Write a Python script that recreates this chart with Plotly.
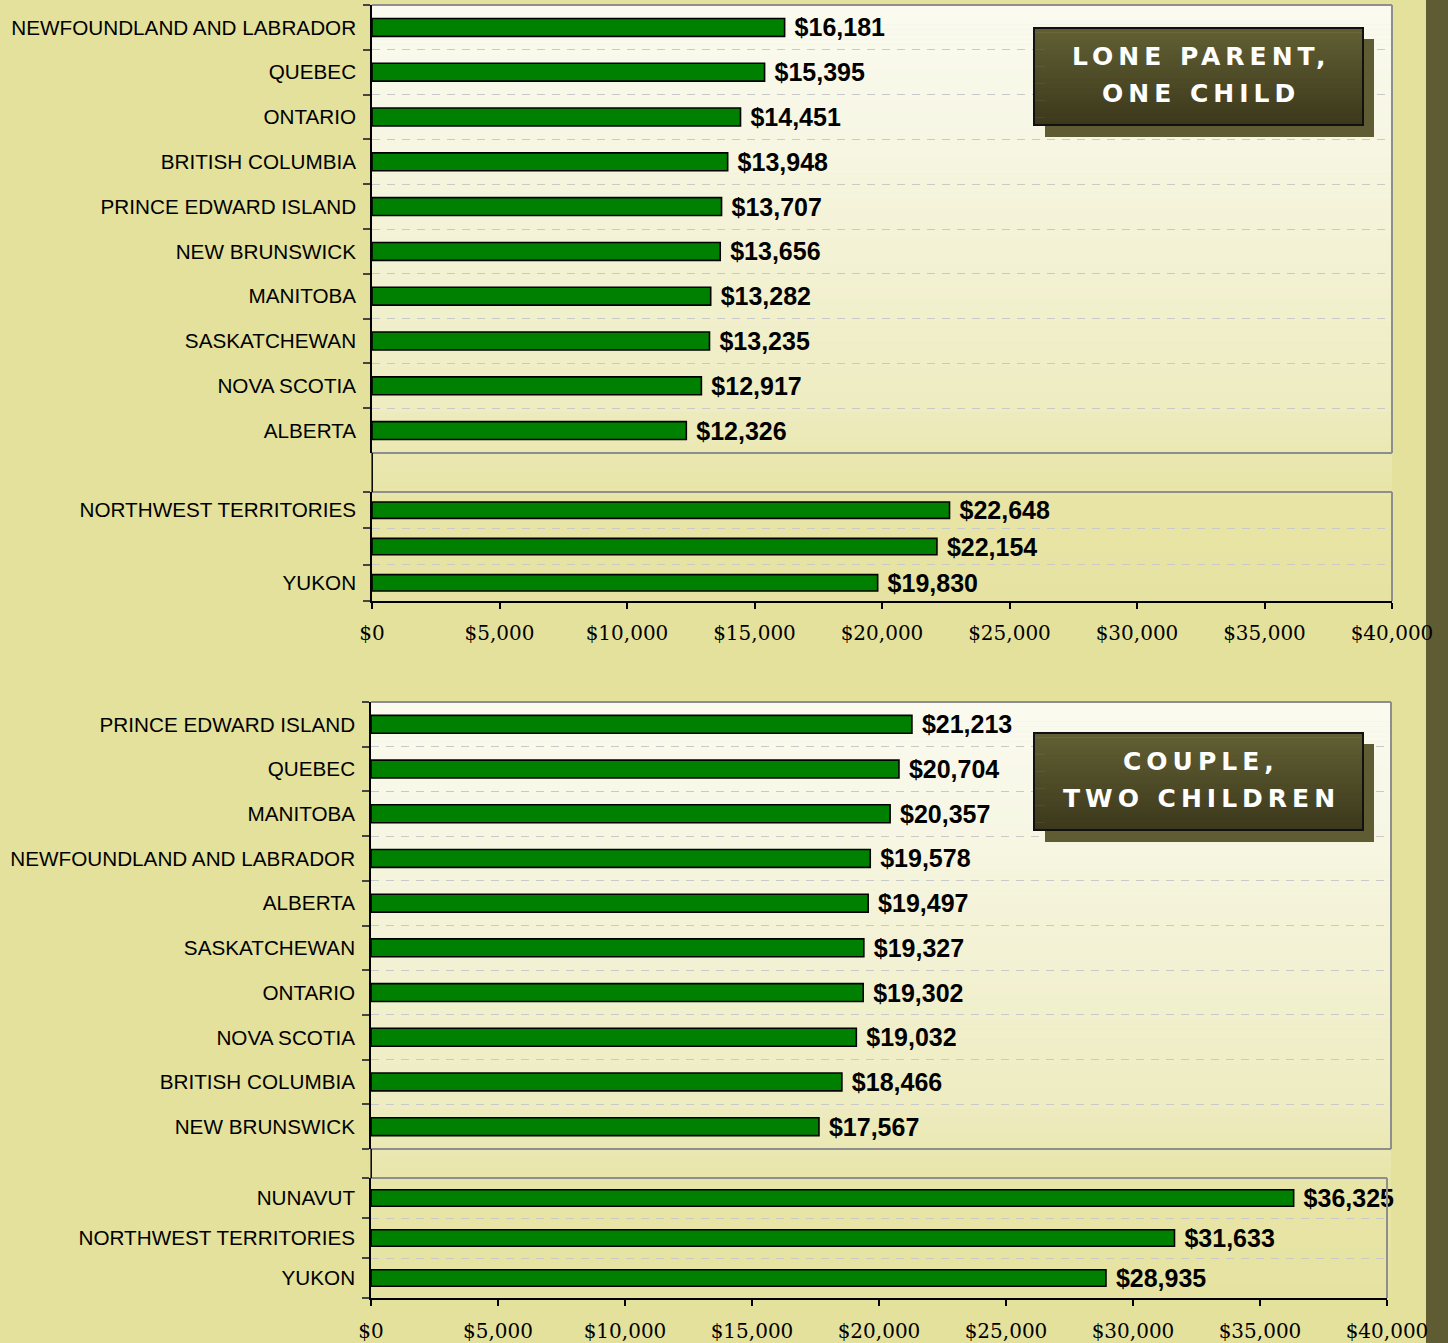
import numpy as np
import plotly.graph_objects as go

W, H = 1448, 1343

# ---------------- data ----------------
lone_provinces = ["NEWFOUNDLAND AND LABRADOR", "QUEBEC", "ONTARIO", "BRITISH COLUMBIA",
                  "PRINCE EDWARD ISLAND", "NEW BRUNSWICK", "MANITOBA", "SASKATCHEWAN",
                  "NOVA SCOTIA", "ALBERTA"]
lone_province_values = [16181, 15395, 14451, 13948, 13707, 13656, 13282, 13235, 12917, 12326]

lone_territories = ["NORTHWEST TERRITORIES", "NUNAVUT", "YUKON"]
lone_territory_labels = ["NORTHWEST TERRITORIES", "", "YUKON"]
lone_territory_values = [22648, 22154, 19830]

couple_provinces = ["PRINCE EDWARD ISLAND", "QUEBEC", "MANITOBA", "NEWFOUNDLAND AND LABRADOR",
                    "ALBERTA", "SASKATCHEWAN", "ONTARIO", "NOVA SCOTIA", "BRITISH COLUMBIA",
                    "NEW BRUNSWICK"]
couple_province_values = [21213, 20704, 20357, 19578, 19497, 19327, 19302, 19032, 18466, 17567]

couple_territories = ["NUNAVUT", "NORTHWEST TERRITORIES", "YUKON"]
couple_territory_labels = ["NUNAVUT", "NORTHWEST TERRITORIES", "YUKON"]
couple_territory_values = [36325, 31633, 28935]

x_tick_values = [0, 5000, 10000, 15000, 20000, 25000, 30000, 35000, 40000]
x_tick_labels = ["$0", "$5,000", "$10,000", "$15,000", "$20,000", "$25,000",
                 "$30,000", "$35,000", "$40,000"]

panel_titles = [["LONE PARENT,", "ONE CHILD"], ["COUPLE,", "TWO CHILDREN"]]

# ---------------- styling ----------------
PAGE = "#E3E19B"
STRIP = "#5F5C33"
BAR = "#008000"
LABEL_FONT = "Liberation Sans, Arial, sans-serif"
TICK_FONT = "DejaVu Serif, serif"


def px_x(p):
    return p / W


def px_y(p):
    return 1 - p / H


# pixel boxes of the four plotting areas (x0, x1, ytop, ybottom)
boxes = [
    (372, 1392, 5, 453),
    (372, 1392, 492, 601),
    (371, 1391, 702, 1149),
    (371, 1387, 1178, 1298),
]
x_label_standoff = [None, 7, None, 8]

fig = go.Figure()

series = [
    (lone_provinces, lone_provinces, lone_province_values, 0.40),
    (lone_territories, lone_territory_labels, lone_territory_values, 0.45),
    (couple_provinces, couple_provinces, couple_province_values, 0.40),
    (couple_territories, couple_territory_labels, couple_territory_values, 0.41),
]

layout = dict(
    width=W, height=H, autosize=False, margin=dict(l=0, r=0, t=0, b=0, autoexpand=False),
    paper_bgcolor=PAGE, plot_bgcolor="rgba(0,0,0,0)",
    showlegend=False,
)

for i, (cats, labels, vals, bw) in enumerate(series):
    n = i + 1
    xname = "x" if n == 1 else f"x{n}"
    yname = "y" if n == 1 else f"y{n}"
    fig.add_trace(go.Bar(
        x=vals, y=cats, orientation="h", xaxis=xname, yaxis=yname,
        width=bw,
        marker=dict(color=BAR, line=dict(color="black", width=1.6)),
        texttemplate=" $%{x:,.0f}", textposition="outside", constraintext="none",
        textfont=dict(family=LABEL_FONT, size=25, color="black", weight="bold"),
        cliponaxis=False, hoverinfo="skip",
    ))
    x0, x1, yt, yb = boxes[i]
    show_x = (i % 2 == 1)
    xa = dict(
        domain=[px_x(x0), px_x(x1)], range=[0, 40000], anchor=yname,
        showgrid=False, zeroline=False, fixedrange=True, automargin=False,
        visible=show_x,
    )
    if show_x:
        xa.update(
            tickmode="array", tickvals=x_tick_values, ticktext=x_tick_labels,
            ticks="outside", ticklen=6, tickcolor="black", tickwidth=1.5,
            showline=True, linecolor="black", linewidth=1.5,
            tickfont=dict(family=TICK_FONT, size=20, color="black"),
            ticklabelstandoff=x_label_standoff[i],
        )
    ya = dict(
        domain=[px_y(yb), px_y(yt)], anchor=xname, type="category",
        categoryorder="array", categoryarray=cats, autorange="reversed",
        tickmode="array", tickvals=cats, ticktext=labels, tickson="boundaries",
        ticks="outside", ticklen=7, tickcolor="#444", tickwidth=1.5,
        showline=True, linecolor="black", linewidth=1.5,
        showgrid=True, gridcolor="#C9C9C9", griddash="8px,7px", gridwidth=1,
        tickfont=dict(family=LABEL_FONT, size=20.7, color="black"),
        ticklabelstandoff=10, zeroline=False, fixedrange=True, automargin=False,
    )
    layout["xaxis" if n == 1 else f"xaxis{n}"] = xa
    layout["yaxis" if n == 1 else f"yaxis{n}"] = ya

shapes = []

# dark strip at the right edge (below the tick labels)
shapes.append(dict(type="rect", xref="paper", yref="paper", layer="below",
                   x0=px_x(1426), x1=1.01, y0=-0.01, y1=1.01,
                   fillcolor=STRIP, line=dict(width=0)))

# gradient background behind each pair of plotting areas
top_c = np.array([250, 250, 240])
bot_c = np.array([230, 227, 162])
ctl_t = [0, 0.2, 0.67, 0.78, 0.83, 1.0]
ctl_f = [0, 0.14, 0.60, 0.85, 0.95, 1.0]
for (x0, x1, ytop, ybot) in [(372, 1392, 5, 601), (371, 1391, 702, 1298)]:
    nstrip = 120
    edges = np.linspace(ytop, ybot, nstrip + 1)
    for k in range(nstrip):
        t = (k + 0.5) / nstrip
        f = np.interp(t, ctl_t, ctl_f)
        c = top_c + (bot_c - top_c) * f
        shapes.append(dict(type="rect", xref="paper", yref="paper", layer="below",
                           x0=px_x(x0), x1=px_x(x1), y0=px_y(edges[k + 1]), y1=px_y(edges[k] - 0.6),
                           fillcolor=f"rgb({c[0]:.0f},{c[1]:.0f},{c[2]:.0f})", line=dict(width=0)))

GRAY = "#8E8E8E"


def hline(xa, xb, y, color=GRAY, w=2):
    return dict(type="line", xref="paper", yref="paper", layer="above",
                x0=px_x(xa), x1=px_x(xb), y0=px_y(y), y1=px_y(y), line=dict(color=color, width=w))


def vline(x, ya, yb, color=GRAY, w=2):
    return dict(type="line", xref="paper", yref="paper", layer="above",
                x0=px_x(x), x1=px_x(x), y0=px_y(ya), y1=px_y(yb), line=dict(color=color, width=w))


for i, (x0, x1, yt, yb) in enumerate(boxes):
    shapes.append(hline(x0, x1, yt))
    shapes.append(vline(x1, yt, yb))
    if i % 2 == 0:
        shapes.append(hline(x0, x1, yb))

# black y-axis line across the gaps
shapes.append(vline(372.2, 453, 492, color="black", w=1.5))
shapes.append(vline(371.2, 1149, 1178, color="black", w=1.5))

# title boxes
annotations = []
box_c_top = np.array([98, 96, 52])
box_c_bot = np.array([60, 56, 28])
for (bx0, by0), title in zip([(1034, 28), (1034, 733)], panel_titles):
    bx1, by1 = bx0 + 329, by0 + 97
    shapes.append(dict(type="rect", xref="paper", yref="paper", layer="above",
                       x0=px_x(bx0 + 11), x1=px_x(bx1 + 11), y0=px_y(by1 + 12), y1=px_y(by0 + 11),
                       fillcolor=STRIP, line=dict(width=0)))
    ns = 40
    edges = np.linspace(by0, by1, ns + 1)
    for k in range(ns):
        t = (k + 0.5) / ns
        c = box_c_top + (box_c_bot - box_c_top) * t
        shapes.append(dict(type="rect", xref="paper", yref="paper", layer="above",
                           x0=px_x(bx0), x1=px_x(bx1), y0=px_y(edges[k + 1]), y1=px_y(edges[k] - 0.6),
                           fillcolor=f"rgb({c[0]:.0f},{c[1]:.0f},{c[2]:.0f})", line=dict(width=0)))
    shapes.append(dict(type="rect", xref="paper", yref="paper", layer="above",
                       x0=px_x(bx0), x1=px_x(bx1), y0=px_y(by1), y1=px_y(by0),
                       fillcolor="rgba(0,0,0,0)", line=dict(color="#111", width=2)))
    cx = (bx0 + bx1) / 2 + 2.5
    for j, line_text in enumerate(title):
        cy = by0 + 28.5 + j * 36.5
        annotations.append(dict(
            xref="paper", yref="paper", x=px_x(cx), y=px_y(cy), xanchor="center", yanchor="middle",
            text=f"<span style='letter-spacing:5px'>{line_text}</span>", showarrow=False,
            font=dict(family="DejaVu Sans, sans-serif", size=25, color="white", weight="bold"),
        ))

layout["shapes"] = shapes
layout["annotations"] = annotations
fig.update_layout(**layout)

fig.write_html(
    "out.html",
    config={"displayModeBar": False, "responsive": False},
    post_script="document.body.style.margin='0px';document.body.style.overflow='hidden';",
)
